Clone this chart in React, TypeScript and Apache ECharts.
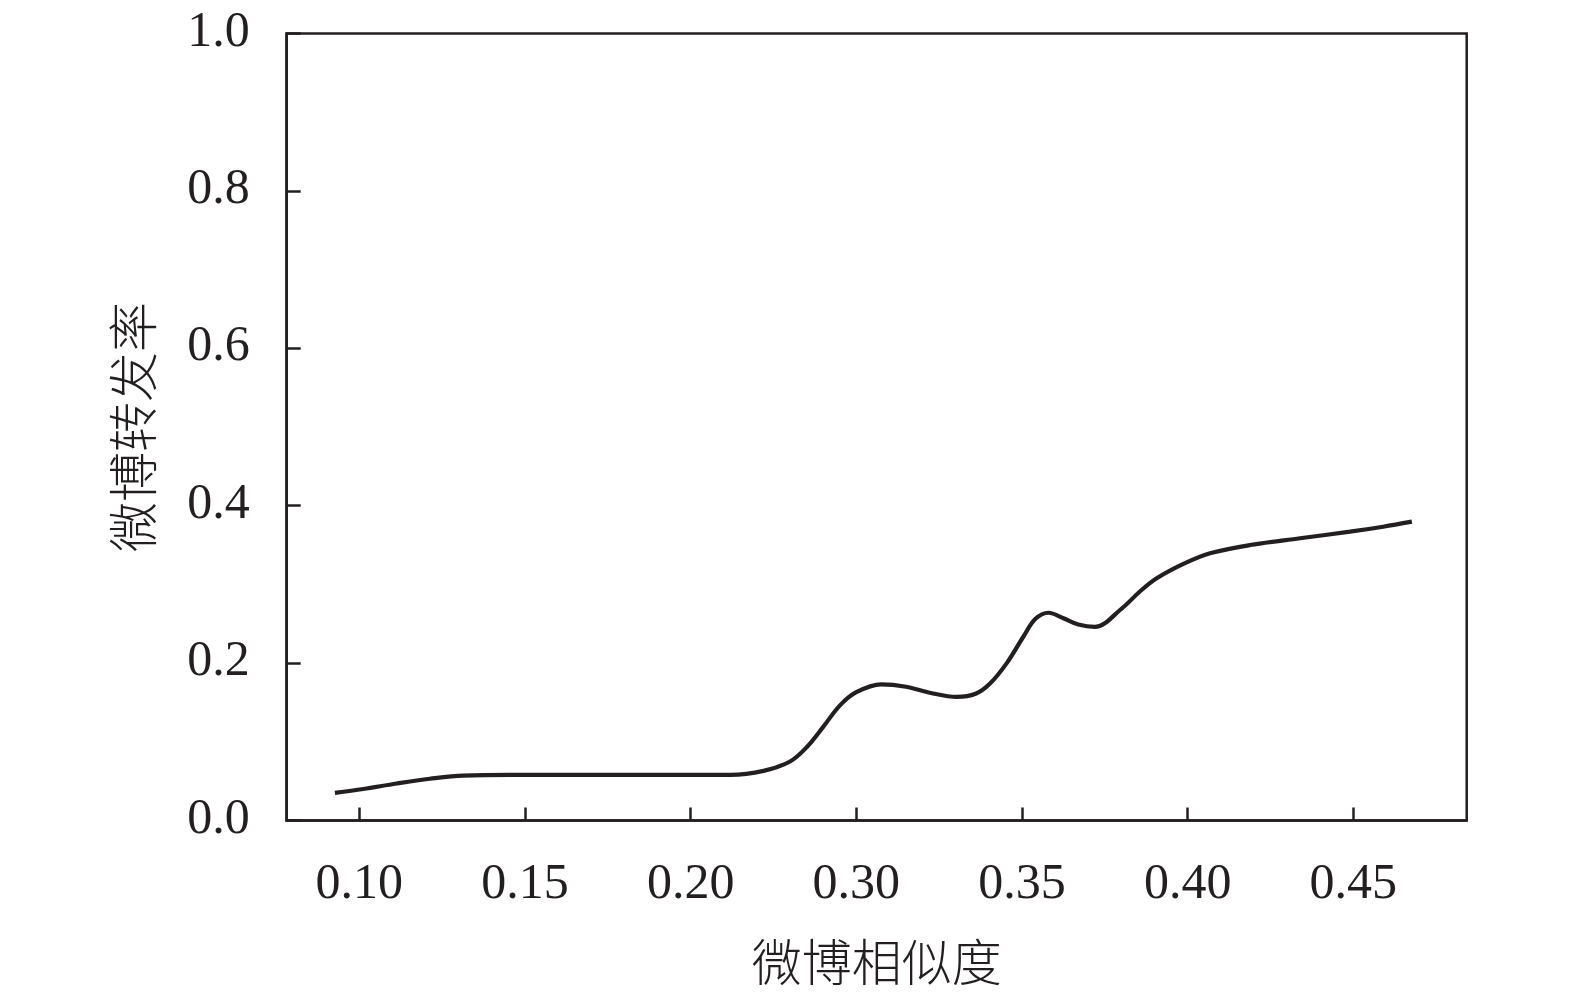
import React, { useEffect, useRef } from "react";
import * as echarts from "echarts";

// x positions are in tick-slot units: slot i sits under xTickLabels[i]
const xTickLabels = ["0.10", "0.15", "0.20", "0.30", "0.35", "0.40", "0.45"];
const xTickSlots = [0, 1, 2, 3, 4, 5, 6];
const curveX = [
  -0.147, 0.024, 0.226, 0.427, 0.628, 1.03, 1.634, 2.238, 2.44, 2.6, 2.7, 2.8, 2.9, 3.0,
  3.15, 3.3, 3.45, 3.606, 3.72, 3.807, 3.908, 4.008, 4.08, 4.16, 4.25, 4.34, 4.44,
  4.6, 4.71, 4.813, 4.974, 5.135, 5.376, 5.678, 5.98, 6.18, 6.353,
];
const curveY = [
  0.035, 0.04, 0.047, 0.053, 0.057, 0.058, 0.058, 0.058, 0.063, 0.075, 0.093, 0.119, 0.146,
  0.163, 0.173, 0.170, 0.162, 0.157, 0.161, 0.174, 0.2, 0.2335, 0.256, 0.264, 0.257, 0.249,
  0.246, 0.269, 0.2907, 0.3077, 0.326, 0.3395, 0.35, 0.3586, 0.367, 0.3733, 0.3797,
];
const yTicks = [0, 0.2, 0.4, 0.6, 0.8, 1.0];

const INK = "#231f20";

export default function App() {
  const ref = useRef<HTMLDivElement>(null);
  useEffect(() => {
    if (!ref.current) return;
    const chart = echarts.init(ref.current, undefined, { renderer: "svg" });
    const data = curveX.map((x, i) => [x, curveY[i]]);
    chart.setOption({
      animation: false,
      backgroundColor: "#ffffff",
      grid: {
        left: 286.7,
        top: 33.5,
        width: 1180,
        height: 787,
        show: true,
        borderColor: INK,
        borderWidth: 2.5,
        backgroundColor: "transparent",
      },
      xAxis: {
        type: "value",
        min: -0.438,
        max: 6.684,
        name: "微博相似度",
        nameLocation: "middle",
        nameGap: 113,
        nameTextStyle: { fontFamily: "Noto Sans CJK SC", fontSize: 50, color: INK, fontWeight: 300 },
        axisLine: { show: true, onZero: false, lineStyle: { color: INK, width: 2.5 } },
        axisTick: { show: true, inside: true, length: 13, customValues: xTickSlots, lineStyle: { color: INK, width: 2.5 } },
        axisLabel: {
          customValues: xTickSlots,
          margin: 35,
          fontFamily: "Liberation Serif",
          fontSize: 50,
          color: INK,
          formatter: (v: number) => xTickLabels[Math.round(v)] ?? "",
        },
        splitLine: { show: false },
      },
      yAxis: {
        type: "value",
        min: 0,
        max: 1,
        interval: 0.2,
        name: "微博转发率",
        nameLocation: "middle",
        nameGap: 132,
        nameRotate: 90,
        nameTextStyle: { fontFamily: "Noto Sans CJK SC", fontSize: 50, color: INK, fontWeight: 300 },
        axisLine: { show: true, onZero: false, lineStyle: { color: INK, width: 2.5 } },
        axisTick: { show: true, inside: true, length: 14, lineStyle: { color: INK, width: 2.5 } },
        axisLabel: {
          margin: 37,
          fontFamily: "Liberation Serif",
          fontSize: 50,
          color: INK,
          formatter: (v: number) => {
            const t = yTicks.find((k) => Math.abs(k - v) < 1e-6);
            return t === undefined ? "" : "{n|" + t.toFixed(1) + "}";
          },
          rich: {
            n: {
              fontFamily: "Liberation Serif",
              fontSize: 50,
              color: INK,
              padding: [0, 0, 10, 0],
            },
          },
        },
        splitLine: { show: false },
      },
      series: [
        {
          type: "line",
          data,
          smooth: 0.35,
          symbol: "none",
          lineStyle: { color: INK, width: 4.2 },
        },
      ],
    });
    return () => chart.dispose();
  }, []);
  return (
    <div
      ref={ref}
      style={{ position: "fixed", left: 0, top: 0, width: 1575, height: 994 }}
    />
  );
}
